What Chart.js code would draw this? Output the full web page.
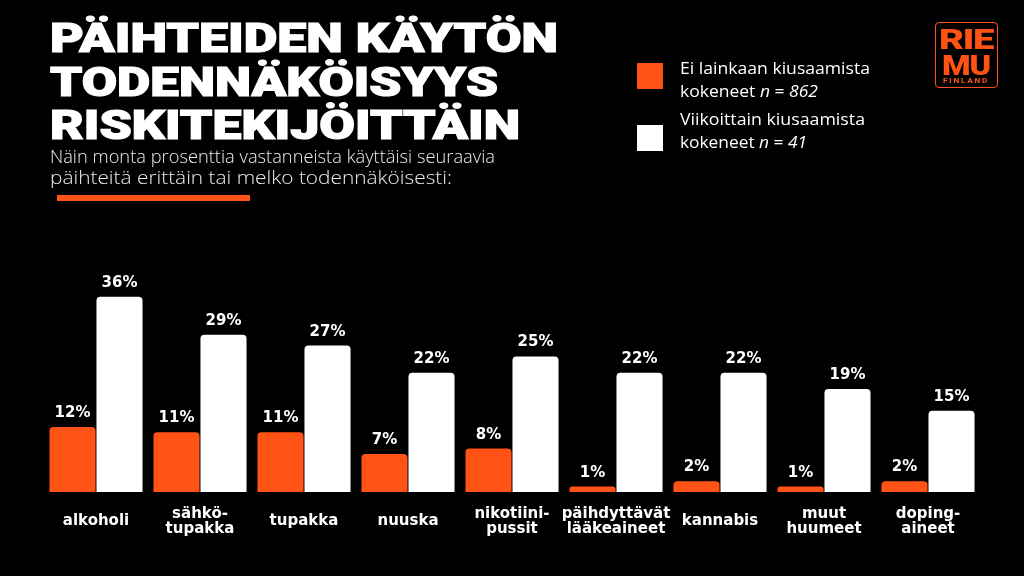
<!DOCTYPE html>
<html><head><meta charset="utf-8">
<script src="https://cdn.jsdelivr.net/npm/chart.js@4.4.1/dist/chart.umd.min.js"></script>
<style>
html,body{margin:0;padding:0;background:#000;width:1024px;height:576px;overflow:hidden;}
#wrap{position:relative;width:1024px;height:576px;}
canvas#c{position:absolute;left:0;top:0;}
.t{position:absolute;left:50px;color:#fff;font-family:Roboto,"DejaVu Sans",sans-serif;font-weight:900;font-size:40px;line-height:1;white-space:nowrap;transform-origin:0 0;-webkit-text-stroke:1.2px #fff;}
.s{position:absolute;left:50px;color:#ececec;font-family:"Open Sans",Lato,sans-serif;font-weight:300;font-size:18px;line-height:1;white-space:nowrap;transform-origin:0 0;}
.bar{position:absolute;left:57px;top:195px;width:193px;height:6px;background:#ff5215;}
.lg{position:absolute;width:26px;height:26px;}
.lt{position:absolute;left:680px;color:#fff;font-family:"Open Sans",sans-serif;font-size:16px;line-height:1;white-space:nowrap;transform-origin:0 0;}
.logo{position:absolute;left:935px;top:22px;width:61px;height:64px;border:1.5px solid #ff5215;border-radius:4px;}
.lgt{position:absolute;left:0;color:#ff5215;font-family:Roboto,sans-serif;font-weight:900;line-height:1;white-space:nowrap;transform-origin:0 0;}
</style></head>
<body><div id="wrap">
<canvas id="c" width="1024" height="576"></canvas>
<div class="t" data-w="508" style="top:19px">PÄIHTEIDEN KÄYTÖN</div>
<div class="t" data-w="448" style="top:63px">TODENNÄKÖISYYS</div>
<div class="t" data-w="470" style="top:106px">RISKITEKIJÖITTÄIN</div>
<div class="s" data-w="445" style="top:147px">Näin monta prosenttia vastanneista käyttäisi seuraavia</div>
<div class="s" data-w="402" style="top:168px">päihteitä erittäin tai melko todennäköisesti:</div>
<div class="bar"></div>
<div class="lg" style="left:637px;top:63px;background:#ff5215"></div>
<div class="lg" style="left:637px;top:125px;background:#fff"></div>
<div class="lt" data-w="190" style="top:60px">Ei lainkaan kiusaamista</div>
<div class="lt" data-w="138" style="top:83px">kokeneet <i>n</i> = <i>862</i></div>
<div class="lt" data-w="185" style="top:111px">Viikoittain kiusaamista</div>
<div class="lt" data-w="127" style="top:134px">kokeneet <i>n</i> = <i>41</i></div>
<div class="logo">
  <div class="lgt" data-w="54" data-x="3" style="top:3px;font-size:28px;letter-spacing:-1px">RIE</div>
  <div class="lgt" data-w="48" data-x="6" style="top:29px;font-size:28px;letter-spacing:-1px">MU</div>
  <div class="lgt" data-w="46" data-x="7" style="top:55px;font-size:7px;letter-spacing:1.5px;font-weight:700">FINLAND</div>
</div>
</div>
<script>
const categories = [["alkoholi"],["sähkö-","tupakka"],["tupakka"],["nuuska"],["nikotiini-","pussit"],["päihdyttävät","lääkeaineet"],["kannabis"],["muut","huumeet"],["doping-","aineet"]];
const seriesNames = ["Ei lainkaan kiusaamista kokeneet n = 862","Viikoittain kiusaamista kokeneet n = 41"];
const notBullied = [12, 11, 11, 7, 8, 1, 2, 1, 2];
const weeklyBullied = [36, 29, 27, 22, 25, 22, 22, 19, 15];

// fit header text widths
document.querySelectorAll('[data-w]').forEach(el=>{
  const w = el.getBoundingClientRect().width;
  const target = +el.dataset.w;
  if (el.dataset.x) el.style.left = el.dataset.x + 'px';
  el.style.transform = 'scaleX(' + (target / w) + ')';
});

const valueLabels = {
  id:'valueLabels',
  afterDatasetsDraw(chart){
    const ctx = chart.ctx;
    ctx.save();
    ctx.fillStyle = '#fff';
    ctx.font = 'bold 15px "DejaVu Sans", sans-serif';
    ctx.textAlign = 'center';
    ctx.textBaseline = 'alphabetic';
    chart.data.datasets.forEach((ds,i)=>{
      chart.getDatasetMeta(i).data.forEach((el,j)=>{
        ctx.fillText(ds.data[j] + '%', el.x, el.y - 10);
      });
    });
    ctx.restore();
  }
};

new Chart(document.getElementById('c'), {
  type:'bar',
  data:{
    labels: categories,
    datasets:[
      {label:seriesNames[0], data:notBullied, backgroundColor:'#ff5215', borderRadius:{topLeft:4,topRight:4}, borderSkipped:'bottom'},
      {label:seriesNames[1], data:weeklyBullied, backgroundColor:'#ffffff', borderRadius:{topLeft:4,topRight:4}, borderSkipped:'bottom'}
    ]
  },
  options:{
    responsive:false,
    animation:false,
    devicePixelRatio:1,
    layout:{padding:{left:44,right:44,top:248,bottom:0}},
    categoryPercentage:0.904,
    barPercentage:0.98,
    plugins:{legend:{display:false},tooltip:{enabled:false}},
    scales:{
      x:{
        grid:{display:false,drawTicks:false},
        border:{display:false},
        ticks:{color:'#fff',font:{family:'"DejaVu Sans", sans-serif',size:15,weight:'bold',lineHeight:1.0},padding:22,crossAlign:'center',maxRotation:0,autoSkip:false},
        afterFit(s){ s.height = 84; }
      },
      y:{
        display:false,
        min:0,max:45
      }
    }
  },
  plugins:[valueLabels]
});
</script>
</body></html>
